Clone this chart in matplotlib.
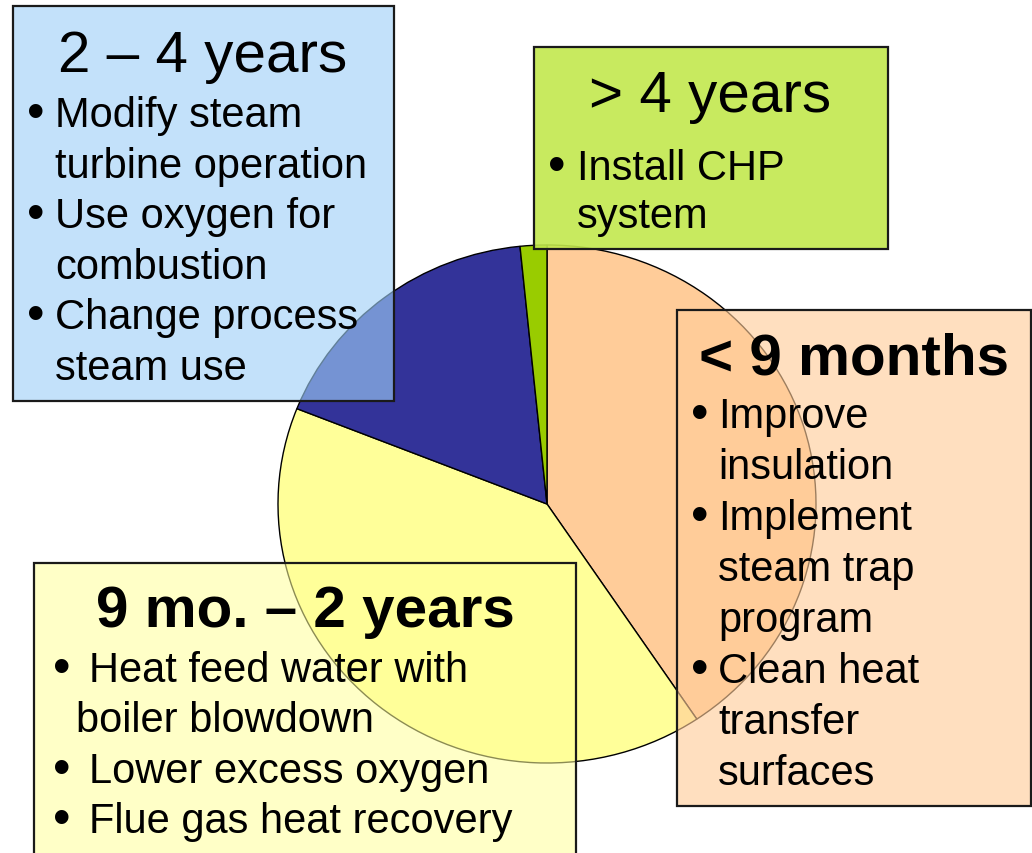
import matplotlib.pyplot as plt
from matplotlib.patches import Rectangle

# Pie shares (clockwise from 12 o'clock)
SEGMENTS = ['< 9 months', '9 mo. – 2 years', '2 – 4 years', '> 4 years']
SHARES = [40.6, 40.4, 17.4, 1.6]
PIE_COLORS = ['#FFCC99', '#FFFF99', '#333399', '#99CC00']

# Callout texts
TITLES = {
    '< 9 months': '< 9 months',
    '9 mo. – 2 years': '9 mo. – 2 years',
    '2 – 4 years': '2 – 4 years',
    '> 4 years': '> 4 years',
}
BULLETS = {
    '< 9 months': [['Improve', 'insulation'],
                   ['Implement', 'steam trap', 'program'],
                   ['Clean heat', 'transfer', 'surfaces']],
    '9 mo. – 2 years': [['Heat feed water with', 'boiler blowdown'],
                        ['Lower excess oxygen'],
                        ['Flue gas heat recovery']],
    '2 – 4 years': [['Modify steam', 'turbine operation'],
                    ['Use oxygen for', 'combustion'],
                    ['Change process', 'steam use']],
    '> 4 years': [['Install CHP', 'system']],
}

# layout in pixels: box (x0, y0, x1, y1), title x / baseline, bullet x, text x, first baseline, line step
LAYOUT = {
    '< 9 months': dict(box=(677, 311, 1031, 807), face=(1.0, 0.80, 0.60, 0.62), tx=854, ty=375, bold=True,
                       bx=700, txt=718, cont=718, y0=428, step=51.0),
    '9 mo. – 2 years': dict(box=(34, 564, 576, 862), face=(1.0, 1.0, 0.60, 0.55), tx=305, ty=627, bold=True,
                            bx=62, txt=89, cont=76, y0=682, step=50.5),
    '2 – 4 years': dict(box=(13, 7, 394, 402), face=(0.62, 0.81, 0.97, 0.62), tx=203, ty=72, bold=False,
                        bx=36, txt=55, cont=55, y0=127, step=50.6),
    '> 4 years': dict(box=(534, 48, 888, 250), face=(0.76, 0.91, 0.30, 0.9), tx=710, ty=112, bold=False,
                      bx=557, txt=577, cont=577, y0=180, step=48.0),
}

W, H = 1032, 854
FONT = 'Liberation Sans'

fig = plt.figure(figsize=(W / 100, H / 100), dpi=100)

# pie: centre (547, 505), radii 269 x 259 px
cx, cy, rx, ry = 547, 505, 269, 259
ax = fig.add_axes([(cx - rx) / W, 1 - (cy + ry) / H, 2 * rx / W, 2 * ry / H])
ax.pie(SHARES, colors=PIE_COLORS, startangle=90, counterclock=False,
       wedgeprops=dict(edgecolor='black', linewidth=1.0))
ax.set_aspect('auto')
ax.set_xlim(-1, 1)
ax.set_ylim(-1, 1)
ax.axis('off')

# overlay in pixel coordinates
ov = fig.add_axes([0, 0, 1, 1], zorder=5)
ov.set_xlim(0, W)
ov.set_ylim(H, 0)
ov.set_facecolor('none')
ov.axis('off')

for seg in SEGMENTS:
    lay = LAYOUT[seg]
    x0, y0, x1, y1 = lay['box']
    ov.add_patch(Rectangle((x0, y0), x1 - x0, y1 - y0, facecolor=lay['face'],
                           edgecolor='#1a1a1a', linewidth=1.6))
    ov.text(lay['tx'], lay['ty'], TITLES[seg], ha='center', va='baseline',
            fontsize=42, fontweight='bold' if lay['bold'] else 'normal',
            family=FONT)
    y = lay['y0']
    for item in BULLETS[seg]:
        ov.text(lay['bx'], y + 1, '•', ha='center', va='baseline', fontsize=36, family=FONT)
        for k, line in enumerate(item):
            ov.text(lay['txt'] if k == 0 else lay['cont'], y, line, ha='left', va='baseline',
                    fontsize=30, family=FONT)
            y += lay['step']

fig.savefig('out.png', dpi=100)
